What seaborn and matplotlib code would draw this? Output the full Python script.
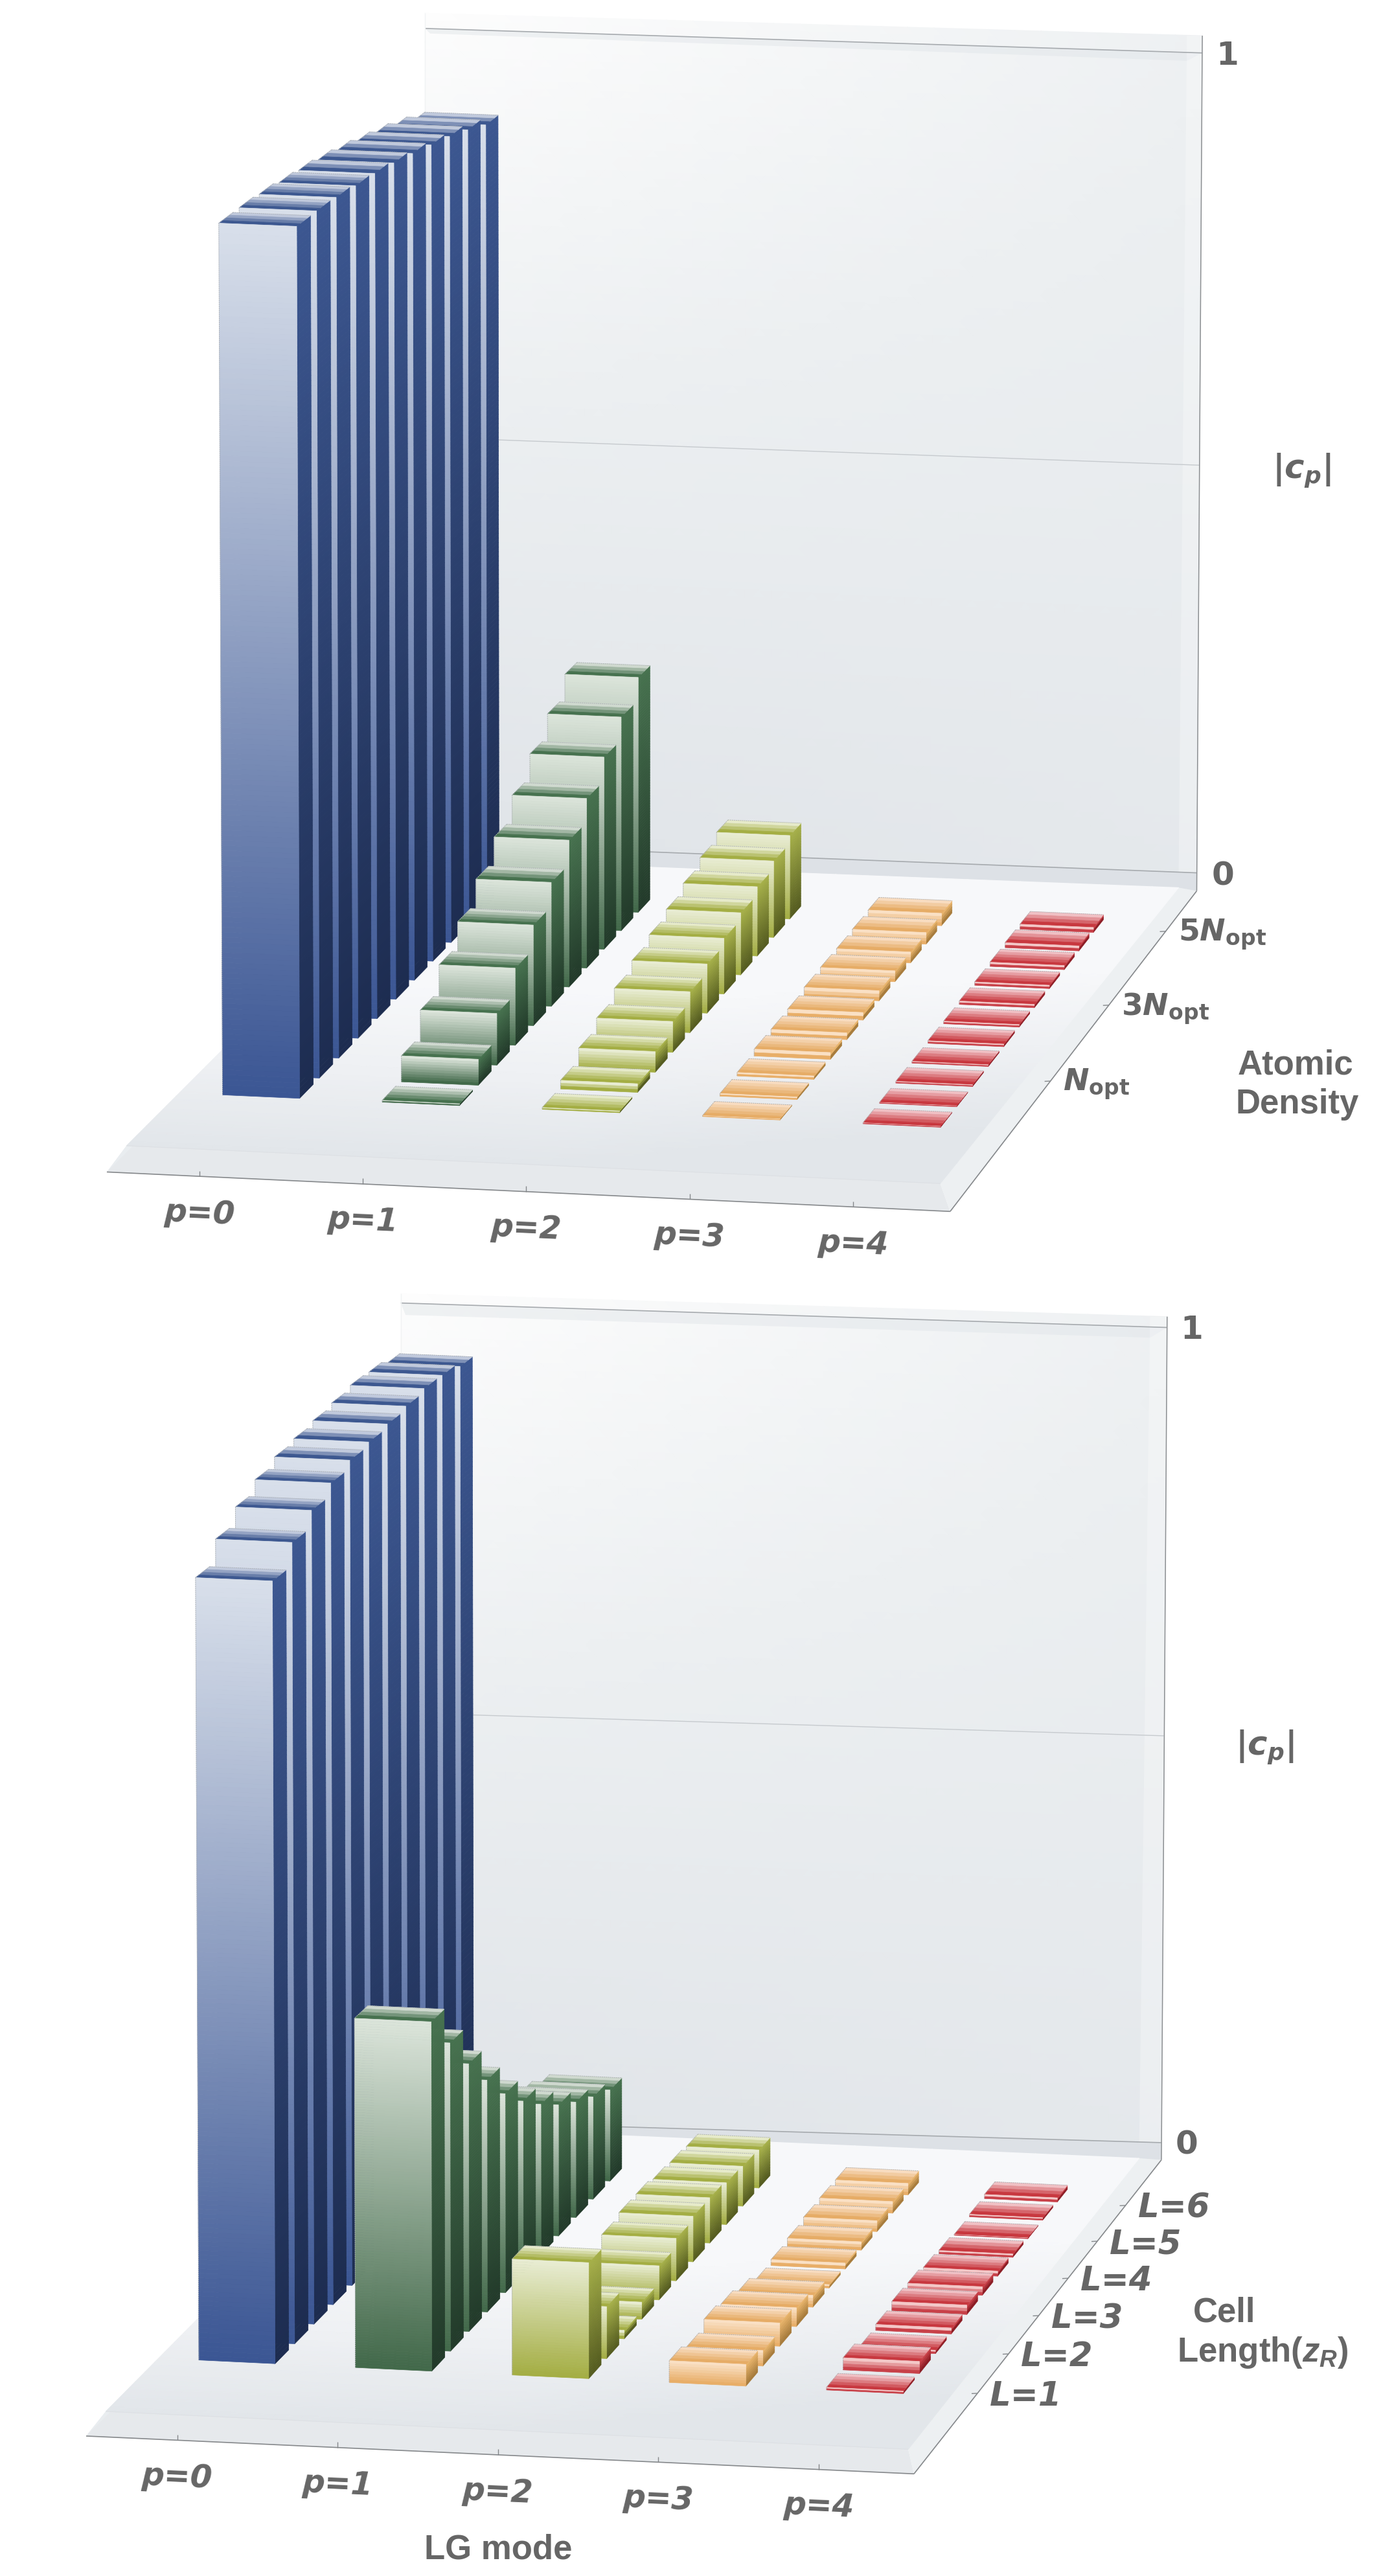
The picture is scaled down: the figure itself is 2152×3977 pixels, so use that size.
import numpy as np
import matplotlib
matplotlib.use("Agg")
import matplotlib.pyplot as plt
from matplotlib.collections import PolyCollection, LineCollection
import seaborn as sns

sns.set_theme(style="white")
plt.rcParams["font.family"] = ["Liberation Sans", "DejaVu Sans"]
plt.rcParams["mathtext.fontset"] = "custom"
plt.rcParams["mathtext.rm"] = "Liberation Sans:bold"
plt.rcParams["mathtext.it"] = "Liberation Sans:bold:italic"
plt.rcParams["mathtext.bf"] = "DejaVu Sans:bold"
plt.rcParams["mathtext.bfit"] = "DejaVu Sans:bold:italic"

# ---------- data: |c_p|, front row to back row ----------
modes = ["p=0", "p=1", "p=2", "p=3", "p=4"]
density_labels = [r"$\mathbfit{N}_{\mathbf{opt}}$", r"$\mathbf{3}\mathbfit{N}_{\mathbf{opt}}$",
                  r"$\mathbf{5}\mathbfit{N}_{\mathbf{opt}}$"]
length_labels = ["L=1", "L=2", "L=3", "L=4", "L=5", "L=6"]

density_p0 = [.993, .993, .991, .987, .984, .979, .973, .966, .959, .950, .939]
density_p1 = [.002, .030, .060, .090, .118, .146, .174, .202, .230, .257, .284]
density_p2 = [.002, .010, .024, .036, .048, .058, .066, .074, .083, .092, .101]
density_p3 = [.001, .003, .004, .008, .008, .009, .012, .013, .013, .014, .015]
density_p4 = [.001, .001, .002, .002, .003, .003, .004, .004, .005, .006, .006]

length_p0 = [.893, .919, .938, .952, .961, .965, .969, .973, .977, .976, .970]
length_p1 = [.400, .355, .310, .270, .233, .203, .178, .156, .138, .123, .110]
length_p2 = [.133, .060, .010, .020, .040, .050, .054, .054, .050, .048, .046]
length_p3 = [.025, .018, .027, .022, .014, .004, .007, .010, .013, .014, .014]
length_p4 = [.003, .014, .004, .007, .011, .010, .006, .004, .001, .003, .005]

# gradient stops (light, dark) of front face, side face, top face for each mode
face_cols = [("#d8dfea", "#3b5694"), ("#dbe4da", "#42694a"), ("#e8ecd2", "#a4ae44"),
             ("#fae0c4", "#e8ae68"), ("#f4c8c8", "#c84048")]
side_cols = [("#3c5791", "#1d2c50"), ("#47724f", "#223a2a"), ("#a6b04a", "#555c20"),
             ("#e8b46c", "#a87c3c"), ("#c84048", "#8c1c24")]
top_cols = [("#c0c9dc", "#3d5890"), ("#cfd9cf", "#47724f"), ("#e6eaca", "#a4ae44"),
            ("#f8dcc0", "#e6ac66"), ("#f0c0c4", "#c8383f")]

GREY = "#666666"
S = 2152 / 848          # picture units of the calibration -> pixels
U0 = {"a": .104, "b": .103}
U_PITCH = {"a": .1988, "b": .197}
U_WIDTH = .096
V0, V_PITCH, V_DEPTH = .169, .067, .0465

# camera calibration: floor / wall corners as (u, v, h) -> picture position
UVH = [(0, 0, 0), (1, 0, 0), (1, 1, 0), (0, 1, 0), (0, 1, 1), (1, 1, 1), (0, 0, 1), (1, 0, 1)]
CAL_A = [(77, 697), (572, 720), (711, 540), (252, 522), (250, 23), (714, 41), (74, 153), (575, 176)]
CAL_B = [(64.4, 1467), (552.5, 1490), (693, 1313), (237, 1293), (235, 794), (696, 814), (61, 923), (555, 946)]


def fit_camera(world, pix):
    rows, rhs = [], []
    for (u, v, h), (x, y) in zip(world, pix):
        x, y = x * S, y * S
        rows.append([u, v, h, 1, 0, 0, 0, 0, -x * u, -x * v, -x * h]); rhs.append(x)
        rows.append([0, 0, 0, 0, u, v, h, 1, -y * u, -y * v, -y * h]); rhs.append(y)
    m = np.linalg.lstsq(np.array(rows, float), np.array(rhs, float), rcond=None)[0]
    return np.append(m, 1.0).reshape(3, 4)


def project(cam, u, v, h):
    q = cam @ np.array([u, v, h, 1.0])
    return q[0] / q[2], q[1] / q[2]


def px(*pts):
    return np.array(pts, float) * S


fig = plt.figure(figsize=(21.52, 39.77), dpi=100)
ax = fig.add_axes([0, 0, 1, 1])


def mesh(corners, field, palette, z):
    """corners: TL, TR, BR, BL in pixels; field(s, t) in 0..1 picks the shade."""
    tl, tr, br, bl = corners
    s = np.linspace(0, 1, 30)
    t = np.linspace(0, 1, 30)
    S_, T_ = np.meshgrid(s, t)
    X = (1 - T_) * ((1 - S_) * tl[0] + S_ * tr[0]) + T_ * ((1 - S_) * bl[0] + S_ * br[0])
    Y = (1 - T_) * ((1 - S_) * tl[1] + S_ * tr[1]) + T_ * ((1 - S_) * bl[1] + S_ * br[1])
    ax.pcolormesh(X, Y, np.clip(field(S_, T_), 0, 1), cmap=sns.blend_palette(palette, as_cmap=True),
                  vmin=0, vmax=1, shading="gouraud", zorder=z)


def poly(points, color, z, alpha=1.0):
    ax.fill([p[0] for p in points], [p[1] for p in points], color=color, lw=0, zorder=z, alpha=alpha)


def line(a, b, color, lw, z):
    ax.plot([a[0], b[0]], [a[1], b[1]], color=color, lw=lw, zorder=z, solid_capstyle="butt")


def strips(f, cols):
    """A face cut into bands along its gradient; f(t) gives the two ends of a cut."""
    a0, b0 = f(0.0)
    a1, b1 = f(1.0)
    n = int(np.clip(max(abs(a0[1] - a1[1]), abs(b0[1] - b1[1])) / 4, 2, 170))
    pal = sns.blend_palette(cols, n)
    verts, colors = [], []
    for i in range(n):
        a, b = f(i / n)
        c, d = f((i + 1) / n)
        verts.append([a, b, d, c])
        colors.append(pal[i])
    return verts, colors


def draw_bar(cam, u1, u2, v1, v2, h, p, z):
    P = lambda u, v, hh: project(cam, u, v, hh)
    verts, colors = [], []
    r = strips(lambda t: (P(u2, v1, h * (1 - t)), P(u2, v2, h * (1 - t))), side_cols[p])
    tp = strips(lambda t: (P(u1, v2 + (v1 - v2) * t, h), P(u2, v2 + (v1 - v2) * t, h)), top_cols[p])
    fr = strips(lambda t: (P(u1, v1, h * (1 - t)), P(u2, v1, h * (1 - t))), face_cols[p])
    for a, b in (r, tp, fr):
        verts += a
        colors += b
    ax.add_collection(PolyCollection(verts, facecolors=colors, edgecolors=colors, linewidths=.5, zorder=z))
    edges = [[P(u1, v2, h), P(u2, v2, h)], [P(u1, v2, h), P(u1, v1, h)], [P(u1, v1, h), P(u1, v1, 0)]]
    ax.add_collection(LineCollection(edges, colors="#aeb2b6", linewidths=.7,
                                     linestyles=[(0, (2, 1.2))], zorder=z + .5))


def panel(key, cal, rows, geo, tick_labels, tick_fracs):
    cam = fit_camera(UVH, cal)
    # wall
    mesh(geo["wall"], lambda s, t: t * 1.05 + s * .45 - s * t * .65, ["#fdfdfd", "#eceff1", "#e1e5e9"], 1)
    wtl, wtr, wbr, wbl = geo["wall"]
    l1a, l1b = geo["h1"]; l5a, l5b = geo["h5"]; l0a, l0b = geo["h0"]
    itl, itr = geo["inner"]
    A, B, C, D = geo["floor"]
    poly([l1a, l1b, itr, itl], "#dfe4e8", 2, .45)
    poly([wtr, (itr[0], wtr[1]), (C[0], l0b[1]), wbr], "#ffffff", 2, .28)
    # band under the zero line
    poly([l0a, l0b, wbr, C, D], "#dde1e6", 2)
    line(l1a, l1b, "#a6aaae", 1.2, 3)
    line(l5a, l5b, "#c6cace", 1.0, 3)
    line(l0a, l0b, "#a6aaae", 1.2, 3)
    line(wtr, wbr, "#8c8f92", 1.1, 3)
    line(wtl, wbl, "#f1f3f4", 1.0, 3)

    # floor plate
    ofl, ofr, obr = geo["outer"]
    obl = np.array([ofl[0] + (ofl[1] - D[1] - 16 * S), D[1] + 16 * S])
    poly([ofl, ofr, B, A], "#e6e9ec", 4)
    poly([ofr, obr, C, B], "#edf0f2", 4)
    poly([ofl, A, D, obl], "#e9edf0", 4)
    mesh([D, C, B, A], lambda s, t: 1.75 * (1 - t) - .45 * np.maximum(s - .5, 0) * (1 + .5 * t),
         ["#e2e6ea", "#eef0f3", "#f7f8fa"], 5)
    line(ofl, ofr, "#85888b", 1.2, 6)
    line(ofr, obr, "#85888b", 1.2, 6)
    line(A, B, "#dde0e4", .8, 6)

    # bars: left to right, back row first
    z = 10
    for p, vals in enumerate(rows):
        uc = U0[key] + U_PITCH[key] * p
        for n in range(len(vals) - 1, -1, -1):
            v1 = V0 + V_PITCH * n
            draw_bar(cam, uc - U_WIDTH / 2, uc + U_WIDTH / 2, v1, v1 + V_DEPTH, vals[n], p, z)
            z += 1

    # front axis ticks + labels
    for p, name in enumerate(modes):
        t = .11 + .1937 * p
        a = ofl + t * (ofr - ofl)
        line(a, a + np.array([0, -8.5]), "#85888b", 1.0, 6)
        ax.text(a[0], a[1] + 22.5 * S, name, family="DejaVu Sans", weight="bold", style="italic",
                size=35, color=GREY, ha="center", va="center", rotation=-2.6,
                rotation_mode="anchor", zorder=500)
    # side axis ticks + labels
    for lab, t in zip(tick_labels, tick_fracs):
        a = ofr + t * (obr - ofr)
        line(a, a + np.array([-9, .4]), "#85888b", 1.0, 6)
        is_math = lab.startswith("$")
        kw = {} if is_math else dict(style="italic")
        ax.text(a[0] + 7.5 * S, a[1] + 2 * S, lab, family="DejaVu Sans", weight="bold",
                size=34 if is_math else 37, color=GREY, ha="left", va="center", zorder=500, **kw)
    for txt, pos in geo["values"]:
        ax.text(pos[0] * S, pos[1] * S, txt, family="DejaVu Sans", weight="bold", size=36,
                color=GREY, ha="center", va="center", zorder=500)
    ax.text(geo["cp"][0] * S, geo["cp"][1] * S, r"$\mathbf{|}\mathbfit{c}_{\mathbfit{p}}\mathbf{|}$",
            size=37, color=GREY, ha="center", va="center", zorder=500)


panel("a", CAL_A,
      [density_p0, density_p1, density_p2, density_p3, density_p4],
      dict(wall=px((258.5, 8), (731.4, 21.7), (728, 542), (258.5, 516)),
           h1=px((258.5, 17.3), (731.4, 32.2)), h5=px((258.5, 266), (729.5, 283)),
           h0=px((258.5, 513), (728, 531)), inner=px((261.7, 20.4), (722, 37)),
           floor=px((77, 697), (572, 720), (717, 540), (252, 522)),
           outer=px((65, 713), (578, 737), (728, 542)),
           values=[("1", (746.5, 33.8)), ("0", (744, 532.8))], cp=(792, 286)),
      density_labels, [.4067, .6436, .874])

panel("b", CAL_B,
      [length_p0, length_p1, length_p2, length_p3, length_p4],
      dict(wall=px((243.8, 787), (710, 801), (706.5, 1314), (243.8, 1294)),
           h1=px((243.8, 792.7), (710, 807.6)), h5=px((243.8, 1042), (708, 1056)),
           h0=px((243.8, 1290), (706.5, 1303.5)), inner=px((246.7, 800), (699.6, 813.8)),
           floor=px((64.4, 1467), (552.5, 1490), (693, 1313), (237, 1293)),
           outer=px((52.4, 1482), (556, 1505), (706.5, 1314)),
           values=[("1", (725, 809)), ("0", (722, 1305))], cp=(769.5, 1063)),
      length_labels, [.2565, .382, .504, .623, .741, .855])

# axis titles
title_kw = dict(weight="bold", size=38, color=GREY, ha="center", va="center", zorder=500)
ax.text(788 * S, 648 * S, "Atomic", **title_kw)
ax.text(789 * S, 672 * S, "Density", **title_kw)
ax.text(745 * S, 1407 * S, "Cell", **title_kw)
ax.text(768 * S, 1431 * S, r"Length($\mathit{z}_{\mathit{R}}$)", **title_kw)
ax.text(303 * S, 1551 * S, "LG mode", **title_kw)

ax.set_xlim(0, 2152)
ax.set_ylim(3977, 0)
ax.axis("off")
fig.savefig("out.png", dpi=100, facecolor="white")
